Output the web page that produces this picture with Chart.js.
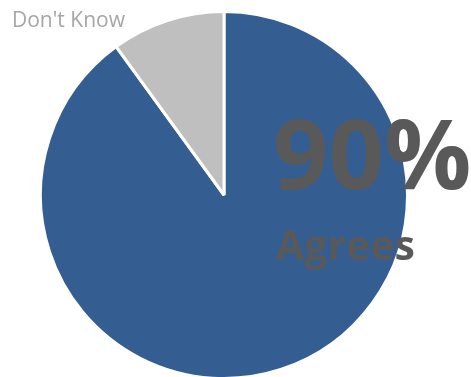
<!DOCTYPE html>
<html>
<head>
<meta charset="utf-8">
<script src="https://cdn.jsdelivr.net/npm/chart.js@4.4.1/dist/chart.umd.min.js"></script>
<style>
  html, body { margin: 0; padding: 0; background: #ffffff; overflow: hidden; }
  #wrap { position: relative; width: 471px; height: 390px; }
</style>
</head>
<body>
<div id="wrap"><canvas id="chart"></canvas></div>
<script>
// Survey answers and their shares (percent)
const categories = ['Agrees', "Don't Know"];
const shares = [90, 10];
const sliceColors = ['#345E92', '#BFBFBF'];

// Headline figure and caption, plus the small outside label for the minor slice
const calloutPlugin = {
  id: 'callout',
  afterDatasetsDraw(chart) {
    const ctx = chart.ctx;
    ctx.save();
    ctx.textBaseline = 'alphabetic';
    ctx.textAlign = 'left';

    ctx.fillStyle = '#595959';
    ctx.font = 'bold 97px "Open Sans"';
    ctx.fillText(shares[0] + '%', 273, 189);

    ctx.font = 'bold 41px "Open Sans"';
    ctx.fillText(categories[0], 276, 260);

    ctx.fillStyle = '#A6A6A6';
    ctx.font = '21px "Open Sans"';
    ctx.fillText(categories[1], 12, 27);
    ctx.restore();
  }
};

new Chart(document.getElementById('chart'), {
  type: 'pie',
  data: {
    labels: categories,
    datasets: [{
      data: shares,
      backgroundColor: sliceColors,
      borderColor: '#ffffff',
      borderWidth: 3
    }]
  },
  options: {
    responsive: true,
    maintainAspectRatio: false,
    animation: false,
    layout: { padding: { top: 10, bottom: 10, left: 0, right: 23 } },
    plugins: {
      legend: { display: false },
      tooltip: { enabled: false }
    }
  },
  plugins: [calloutPlugin]
});
</script>
</body>
</html>
